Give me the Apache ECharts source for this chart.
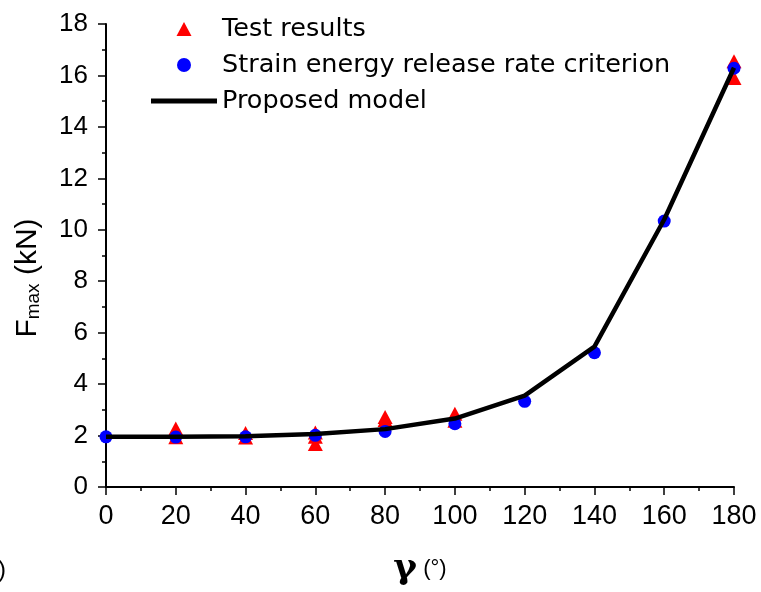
<!DOCTYPE html>
<html>
<head>
<meta charset="utf-8">
<script src="https://cdn.jsdelivr.net/npm/echarts@6/dist/echarts.min.js"></script>
<style>
html,body{margin:0;padding:0;background:#fff;}
#chart{width:761px;height:592px;}
</style>
</head>
<body>
<div id="chart"></div>
<script>
// Angles (degrees)
const angles = [0, 20, 40, 60, 80, 100, 120, 140, 160, 180];
// Strain energy release rate criterion
const sercValues = [1.95, 1.94, 1.95, 2.01, 2.16, 2.46, 3.33, 5.22, 10.34, 16.28];
// Proposed model
const modelValues = [1.95, 1.95, 1.97, 2.06, 2.25, 2.66, 3.55, 5.46, 10.4, 16.3];
// Test results (angle, value)
const testAngles = [20, 20, 40, 40, 60, 60, 60, 80, 80, 100, 100, 180, 180];
const testValues = [2.27, 1.93, 2.1, 1.92, 2.12, 1.95, 1.67, 2.72, 2.6, 2.85, 2.58, 16.55, 15.9];
// Tick labels
const xTicks = [0, 20, 40, 60, 80, 100, 120, 140, 160, 180];
const yTicks = [0, 2, 4, 6, 8, 10, 12, 14, 16, 18];
const seriesNames = ['Test results', 'Strain energy release rate criterion', 'Proposed model'];

const FONT = '"Liberation Sans", Arial, Helvetica, sans-serif';
const LEG = '"DejaVu Sans", "Liberation Sans", Arial, sans-serif';
const chart = echarts.init(document.getElementById('chart'));

const option = {
  animation: false,
  backgroundColor: '#ffffff',
  textStyle: { fontFamily: FONT },
  grid: { left: 106, right: 27, top: 24, bottom: 105, containLabel: false, outerBoundsMode: 'none' },
  legend: {
    data: [
      { name: seriesNames[0], icon: 'path://M7.5,0 L15,14 L0,14 Z' },
      { name: seriesNames[1], icon: 'circle' },
      { name: seriesNames[2], icon: 'path://M0,0 L66,0 L66,5 L0,5 Z' }
    ],
    orient: 'vertical',
    left: 146,
    top: 11,
    itemWidth: 66,
    itemHeight: 14,
    itemGap: 10,
    symbolKeepAspect: true,
    textStyle: { fontSize: 25.5, color: '#000', fontFamily: LEG }
  },
  xAxis: {
    type: 'value',
    min: 0, max: 180, interval: 20,
    name: '{g|γ}{d| (°)}',
    nameLocation: 'middle',
    nameGap: 64,
    nameMoveOverlap: false,
    nameTextStyle: {
      rich: {
        g: { fontSize: 36, fontFamily: '"DejaVu Serif", serif', fontWeight: 'bold', color: '#000' },
        d: { fontSize: 22, fontFamily: FONT, color: '#000' }
      }
    },
    axisLine: { show: true, onZero: false, lineStyle: { color: '#000', width: 2 } },
    axisTick: { show: true, inside: false, length: 8, lineStyle: { color: '#000', width: 1.5 } },
    minorTick: { show: true, splitNumber: 2, length: 4, lineStyle: { color: '#000', width: 1.5 } },
    splitLine: { show: false },
    minorSplitLine: { show: false },
    axisLabel: {
      fontSize: 27, color: '#000', margin: 16, fontFamily: FONT,
      formatter: v => (xTicks.indexOf(v) >= 0 ? String(v) : '')
    }
  },
  yAxis: {
    type: 'value',
    min: 0, max: 18, interval: 2,
    axisLine: { show: true, onZero: false, lineStyle: { color: '#000', width: 2 } },
    axisTick: { show: true, inside: false, length: 8, lineStyle: { color: '#000', width: 1.5 } },
    minorTick: { show: true, splitNumber: 2, length: 4, lineStyle: { color: '#000', width: 1.5 } },
    splitLine: { show: false },
    minorSplitLine: { show: false },
    axisLabel: {
      fontSize: 26, color: '#000', margin: 18, fontFamily: FONT,
      formatter: v => (yTicks.indexOf(v) >= 0 ? String(v) : '')
    }
  },
  graphic: [
    {
      type: 'text', x: 27, y: 278, rotation: Math.PI / 2,
      style: {
        text: '{f|F}{s|max}{f| (kN)}',
        align: 'center', verticalAlign: 'middle',
        rich: {
          f: { fontSize: 30, fontFamily: FONT, fill: '#000', verticalAlign: 'bottom', lineHeight: 32 },
          s: { fontSize: 19, fontFamily: FONT, fill: '#000', verticalAlign: 'bottom', padding: [13, 0, 0, 0], lineHeight: 22 }
        }
      }
    },
    { type: 'text', left: -2, top: 558, style: { text: ')', fontSize: 24, fontFamily: FONT, fill: '#000' } }
  ],
  series: [
    {
      name: seriesNames[0],
      type: 'scatter',
      symbol: 'triangle',
      symbolSize: [15, 14],
      itemStyle: { color: '#ff0000', opacity: 1 },
      data: testAngles.map((a, i) => [a, testValues[i]]),
      z: 2
    },
    {
      name: seriesNames[1],
      type: 'scatter',
      symbol: 'circle',
      symbolSize: 13,
      itemStyle: { color: '#0000ff', opacity: 1 },
      data: angles.map((a, i) => [a, sercValues[i]]),
      z: 3
    },
    {
      name: seriesNames[2],
      type: 'line',
      symbol: 'none',
      showSymbol: false,
      lineStyle: { color: '#000', width: 4.5 },
      itemStyle: { color: '#000' },
      data: angles.map((a, i) => [a, modelValues[i]]),
      z: 4
    }
  ]
};
chart.setOption(option);
</script>
</body>
</html>
